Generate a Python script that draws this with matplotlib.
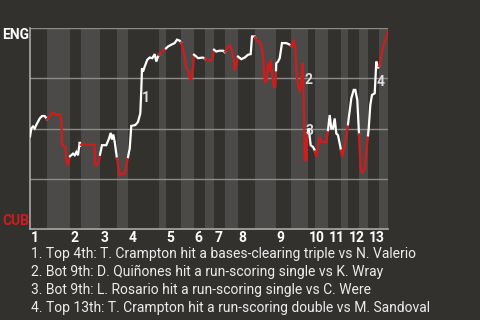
import numpy as np
import matplotlib
matplotlib.use("Agg")
import matplotlib.pyplot as plt

# plays per half-inning (top, bottom, top, bottom, ...)
half_len = [17, 23, 11, 19, 17, 11, 31, 7, 15, 13, 11, 9, 11, 13,
            17, 21, 15, 17, 7, 13, 13, 7, 11, 9, 11, 9]
innings = [str(i) for i in range(1, 14)]

# ENG win probability (%) by play index
play = [0, 1.3, 3, 4.7, 6, 9.7, 12, 14.7, 17, 18.7, 20.7, 23, 24.7, 30.3, 31.3,
        32.3, 35.3, 36.3, 38, 39, 40, 41.3, 43, 44.7, 46.3, 48, 49.7, 50.7,
        52.3, 54.7, 64.7, 64.8, 66.3, 68.7, 70, 72, 76.3, 79, 80.7, 82, 83.3,
        84.7, 86.3, 88, 89.7, 92, 94.7, 97, 98, 99.7, 101.3, 105.3, 108,
        110.3, 111.3, 112, 113, 114.7, 117.3, 119.7, 122.3, 124.7, 126.3, 128,
        130.3, 133, 135.7, 138, 141.3, 144.7, 147, 149.7, 151.3, 154.7, 156.3,
        158.7, 159.7, 161.3, 163, 164, 166.3, 168, 173, 175.3, 178, 181.3, 183,
        184, 186.3, 189.7, 193, 194.7, 196.3, 199.7, 202, 204, 204.7, 207, 208,
        211.3, 214.7, 218, 220.7, 222, 224.7, 226.3, 230.3, 233, 234.7, 236.3,
        238, 239.7, 240.7, 242.3, 243.7, 245.3, 246.3, 248, 249.7, 252, 256.3,
        259.7, 262, 263.7, 265.3, 266.3, 268, 269.7, 271.3, 272.7, 274, 274.7,
        276.3, 277.3, 278.7, 280.7, 283, 284.7, 286.3, 288.7, 289.7, 291.3,
        296.3, 298, 299.7, 301.3, 303, 304.7, 306.3, 308, 310.7, 312, 314.7,
        317.3, 318.7, 321.3, 323.7, 325.3, 327.3, 329.7, 330.7, 332.3, 334.7,
        337, 338.7, 340.3, 342, 344.7, 346.3, 348, 349.7, 351.3, 353, 354.7,
        356.3, 358]
eng_wp = [46, 50, 51, 50, 51.5, 55, 56.2, 56.2, 54.7, 55, 57, 58, 57, 57, 53.5,
          41.5, 41, 34.2, 31.7, 34.2, 36.2, 36.7, 37.5, 36.7, 38.3, 36.7, 43.3,
          41.7, 42.5, 42, 42, 32.5, 31.7, 33.3, 37, 41.7, 41.7, 45, 47.8, 44.5,
          47, 43.3, 37.5, 31.7, 26.7, 27.5, 27.5, 33.3, 35.8, 40, 51.3, 51.7,
          53.3, 57.5, 69.2, 80, 78.3, 80.8, 84.2, 85.3, 85, 87, 83.3, 85.8,
          87.5, 88.7, 89.7, 90.8, 91.7, 92.5, 94.2, 93.7, 92.5, 85.8, 80, 78.3,
          75, 74.2, 80, 86.7, 85.8, 85, 85.3, 84.5, 84.2, 83.7, 85.8, 89.2,
          88.3, 88.7, 88.7, 88, 89.2, 91.7, 88.3, 83.3, 78.7, 83.3, 85.8, 84.5,
          85.3, 86.7, 87, 95.8, 95.8, 93.7, 93, 86.7, 73.3, 73.3, 82.5, 78.3,
          84.2, 76.7, 70.8, 70.8, 82.5, 83.3, 85, 92.5, 92.5, 91.7, 90.8, 94.2,
          90, 78.3, 71.5, 68.3, 73.3, 82.5, 58.3, 34.2, 34.2, 46.7, 50, 41.7,
          40.8, 39.2, 35.8, 43.3, 45.8, 43.3, 43.3, 49.2, 56.7, 50, 50, 55,
          47.5, 46.7, 40, 35.8, 41.7, 49.2, 55, 65, 69.2, 69.2, 64.2, 40, 30,
          27.8, 30, 41.7, 50, 61.7, 66.7, 67.5, 83.3, 80, 81.7, 86.7, 90, 93.3,
          95, 98.5]

# key plays: (play index, label height %)
event_x = [111.5, 274.5, 275.5, 346.5]
event_y = [65, 74, 49, 73]
notes = [
    "1. Top 4th: T. Crampton hit a bases-clearing triple vs N. Valerio",
    "2. Bot 9th: D. Quiñones hit a run-scoring single vs K. Wray",
    "3. Bot 9th: L. Rosario hit a run-scoring single vs C. Were",
    "4. Top 13th: T. Crampton hit a run-scoring double vs M. Sandoval",
]

bg = "#33312e"
light = "#4b4a48"
red = "#d01c1c"
plt.rcParams["font.family"] = ["Roboto", "DejaVu Sans"]

fig = plt.figure(figsize=(4.8, 3.2), dpi=100, facecolor=bg)
ax = fig.add_axes([30 / 480, 1 - 229 / 320, 358 / 480, 201 / 320])
ax.set_facecolor(bg)

edges = np.concatenate([[0], np.cumsum(half_len)])
x = np.array(play)
y = np.array(eng_wp)

for i in range(len(half_len)):
    a, b = edges[i], edges[i + 1]
    if i % 2 == 1:
        ax.axvspan(a, b, color=light, lw=0, zorder=0)
    m = (x > a) & (x < b)
    xs = np.concatenate([[a], x[m], [b]])
    ys = np.concatenate([[np.interp(a, x, y)], y[m], [np.interp(b, x, y)]])
    col = "white" if i % 2 == 0 else red
    ax.plot(xs, ys, color=col, lw=1.6, zorder=3, solid_joinstyle="miter")

for g in [25, 50, 75, 100]:
    ax.axhline(g, color="#8c8b89", lw=1, zorder=1)

ax.set_xlim(0, edges[-1])
ax.set_ylim(0, 100)
for s in ["top", "right"]:
    ax.spines[s].set_visible(False)
for s in ["left", "bottom"]:
    ax.spines[s].set_color("#a9a8a6")
    ax.spines[s].set_linewidth(1.2)
ax.set_xticks([])
ax.set_yticks([])

for k, lab in enumerate(innings):
    ax.text(edges[2 * k] + 0.5, -0.047, lab, transform=ax.get_xaxis_transform(),
            ha="left", va="center", color="white", fontsize=10, fontweight="bold")

for k in range(len(event_x)):
    ax.text(event_x[k], event_y[k], str(k + 1), ha="left", va="center",
            color="#dddddd", fontsize=10, fontweight="bold", zorder=4)

fig.text(2 / 480, 1 - 35 / 320, "ENG", ha="left", va="center", color="white",
         fontsize=10, fontweight="bold")
fig.text(2 / 480, 1 - 221 / 320, "CUB", ha="left", va="center", color=red,
         fontsize=10, fontweight="bold")

for k, t in enumerate(notes):
    fig.text(31 / 480, 1 - (254 + 18 * k) / 320, t, ha="left", va="center",
             color="#ececec", fontsize=10)

fig.savefig("out.png", dpi=100, facecolor=bg)
